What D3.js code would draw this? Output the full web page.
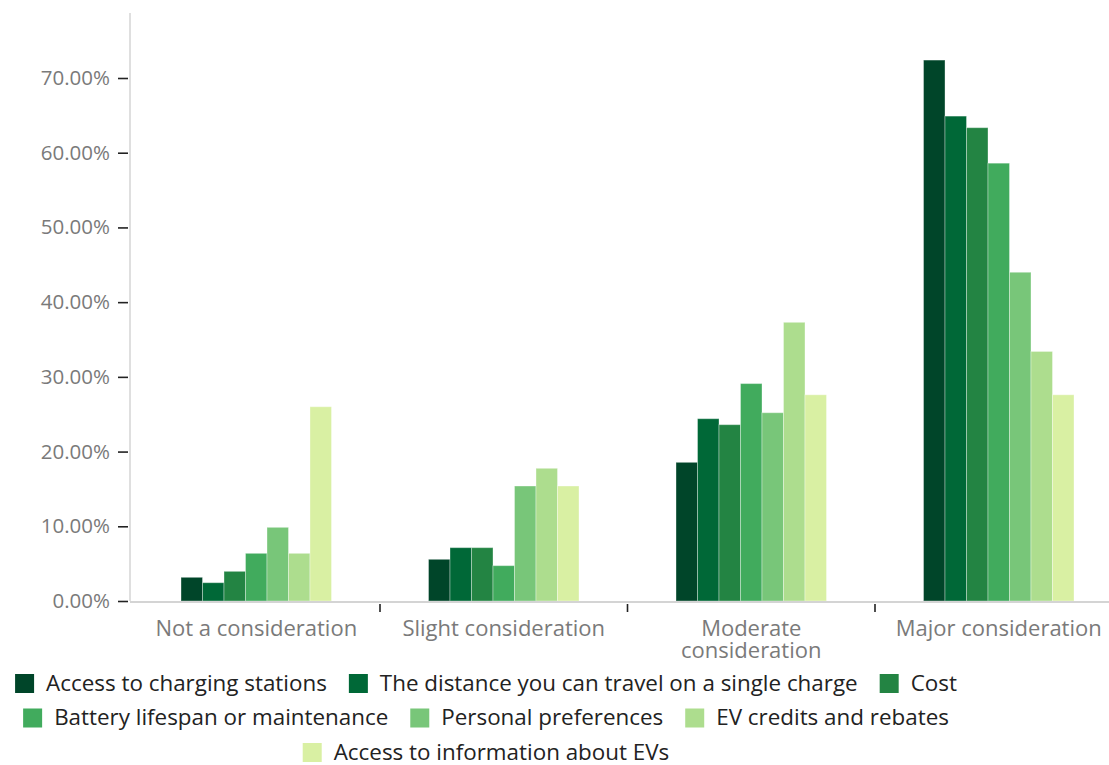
<!DOCTYPE html>
<html>
<head>
<meta charset="utf-8">
<script src="https://cdn.jsdelivr.net/npm/d3@7/dist/d3.min.js"></script>
<style>
  html, body { margin: 0; padding: 0; background: #fff; }
  svg { display: block; font-family: "Open Sans", sans-serif; }
</style>
</head>
<body>
<svg id="chart" width="1109" height="765"></svg>
<script>
// Survey: how much each factor weighs when considering an EV
const categories = ["Not a consideration", "Slight consideration", "Moderate consideration", "Major consideration"];
const seriesNames = [
  "Access to charging stations",
  "The distance you can travel on a single charge",
  "Cost",
  "Battery lifespan or maintenance",
  "Personal preferences",
  "EV credits and rebates",
  "Access to information about EVs"
];
// share of respondents per category, one array per factor
const chargingAccess = [0.0317, 0.0558, 0.1856, 0.7240];
const drivingRange   = [0.0245, 0.0714, 0.2440, 0.6490];
const cost           = [0.0397, 0.0714, 0.2360, 0.6335];
const battery        = [0.0638, 0.0473, 0.2910, 0.5860];
const preferences    = [0.0986, 0.1539, 0.2520, 0.4400];
const credits        = [0.0638, 0.1776, 0.3730, 0.3340];
const information    = [0.2600, 0.1539, 0.2760, 0.2760];
const seriesValues = [chargingAccess, drivingRange, cost, battery, preferences, credits, information];
const yTicks = [0, 0.1, 0.2, 0.3, 0.4, 0.5, 0.6, 0.7];
const colors = ["#004529", "#006837", "#238443", "#41ab5d", "#78c679", "#addd8e", "#d9f0a3"];

const svg = d3.select("#chart");
const W = 1109;
const axisX = 130, baseY = 601, topY = 13;

const y = d3.scaleLinear().domain([0, 0.787]).range([baseY, topY]);
const x = d3.scaleBand().domain(categories).range([132.5, 1122.5]).padding(0);
const inset = x.bandwidth() * 0.196;
const x1 = d3.scaleBand().domain(seriesNames).range([inset, x.bandwidth() - inset]).padding(0);
const color = d3.scaleOrdinal().domain(seriesNames).range(colors);

// y axis
const yAxis = d3.axisLeft(y).tickValues(yTicks).tickFormat(d3.format(".2%")).tickSize(10).tickPadding(8);
const gy = svg.append("g").attr("transform", `translate(${axisX - 2},0)`).call(yAxis);
gy.select(".domain").remove();
gy.selectAll(".tick line").attr("stroke", "#222").attr("stroke-width", 1.6);
gy.selectAll(".tick text").attr("fill", "#7a7a7a").style("font-size", "20.5px").style("font-family", "'Open Sans', sans-serif");
svg.append("line").attr("x1", axisX).attr("x2", axisX).attr("y1", topY).attr("y2", baseY)
  .attr("stroke", "#d4d4d4").attr("stroke-width", 1.5);

// bars
const groups = svg.append("g").selectAll("g").data(categories).join("g")
  .attr("transform", d => `translate(${x(d)},0)`);
groups.selectAll("rect")
  .data((c, ci) => seriesNames.map((s, si) => ({ s, v: seriesValues[si][ci] })))
  .join("rect")
  .attr("x", d => x1(d.s))
  .attr("width", x1.bandwidth())
  .attr("y", d => y(d.v))
  .attr("height", d => y(0) - y(d.v))
  .attr("fill", d => color(d.s))
  .attr("stroke", "#ffffff").attr("stroke-opacity", 0.35).attr("stroke-width", 1);

// x axis baseline and ticks at band boundaries
svg.append("line").attr("x1", axisX).attr("x2", W).attr("y1", baseY + 1).attr("y2", baseY + 1)
  .attr("stroke", "#d4d4d4").attr("stroke-width", 2);
svg.append("g").selectAll("line").data(categories.slice(1)).join("line")
  .attr("x1", d => x(d)).attr("x2", d => x(d)).attr("y1", baseY + 3).attr("y2", baseY + 11)
  .attr("stroke", "#222").attr("stroke-width", 1.6);

// category labels, wrapped to fit the band
const maxLabel = 215;
const labels = svg.append("g").selectAll("text").data(categories).join("text")
  .attr("x", d => x(d) + x.bandwidth() / 2)
  .attr("y", 636)
  .attr("text-anchor", "middle")
  .attr("fill", "#7a7a7a")
  .style("font-size", "22px");
labels.each(function(d) {
  const t = d3.select(this);
  const words = d.split(" ");
  let line = [], lines = [];
  const probe = t.append("tspan");
  words.forEach(w => {
    const trial = line.concat(w).join(" ");
    probe.text(trial);
    if (probe.node().getComputedTextLength() > maxLabel && line.length) {
      lines.push(line.join(" "));
      line = [w];
    } else line.push(w);
  });
  lines.push(line.join(" "));
  probe.remove();
  lines.forEach((l, i) => t.append("tspan").attr("x", t.attr("x")).attr("dy", i ? 22 : 0).text(l));
});

// legend: centred rows that wrap
const legendCenter = 486, legendMax = 970, rowGap = 34.5, itemGap = 22, sw = 19, swGap = 12;
const legend = svg.append("g");
const items = seriesNames.map(s => {
  const g = legend.append("g");
  g.append("rect").attr("width", sw).attr("height", sw).attr("fill", color(s));
  const t = g.append("text").attr("x", sw + swGap).attr("y", 16.5).attr("fill", "#222")
    .style("font-size", "22.4px").text(s);
  return { g, w: sw + swGap + t.node().getComputedTextLength() };
});
const rows = [];
let cur = [], curW = 0;
items.forEach(it => {
  const add = cur.length ? itemGap + it.w : it.w;
  if (cur.length && curW + add > legendMax) { rows.push({ cur, curW }); cur = [it]; curW = it.w; }
  else { cur.push(it); curW += add; }
});
rows.push({ cur, curW });
rows.forEach((r, ri) => {
  let xx = legendCenter - r.curW / 2;
  r.cur.forEach(it => {
    it.g.attr("transform", `translate(${xx},${674 + ri * rowGap})`);
    xx += it.w + itemGap;
  });
});
</script>
</body>
</html>
